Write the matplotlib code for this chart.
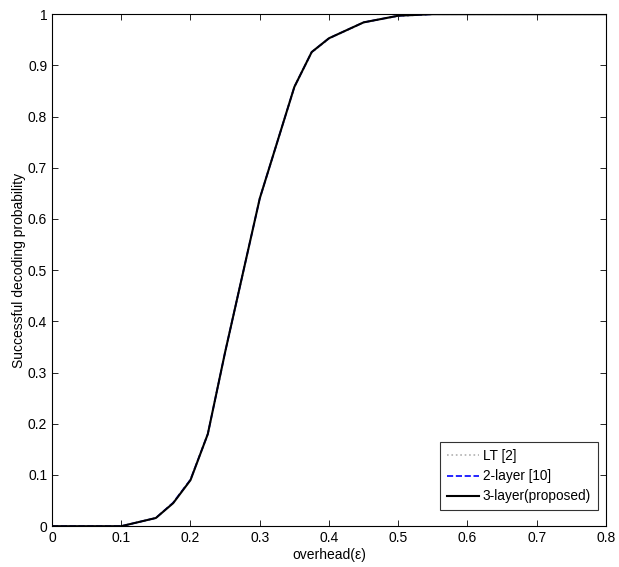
import matplotlib
matplotlib.use("Agg")
import matplotlib.pyplot as plt

plt.rcParams['font.family'] = ['Liberation Sans', 'DejaVu Sans']

overhead = [0.0, 0.1, 0.15, 0.175, 0.2, 0.225, 0.25, 0.3, 0.35, 0.375, 0.4, 0.45, 0.5, 0.55, 0.6, 0.7, 0.8]
lt_prob = [0.0, 0.0, 0.016, 0.046, 0.091, 0.18, 0.34, 0.64, 0.858, 0.925, 0.952, 0.984, 0.996, 1.0, 1.0, 1.0, 1.0]
two_layer_prob = [0.0, 0.0, 0.016, 0.046, 0.091, 0.18, 0.34, 0.64, 0.858, 0.926, 0.953, 0.984, 0.997, 1.0, 1.0, 1.0, 1.0]
three_layer_prob = [0.0, 0.0, 0.016, 0.045, 0.09, 0.18, 0.34, 0.64, 0.858, 0.926, 0.953, 0.984, 0.997, 1.0, 1.0, 1.0, 1.0]

xticks = [0, 0.1, 0.2, 0.3, 0.4, 0.5, 0.6, 0.7, 0.8]
yticks = [0, 0.1, 0.2, 0.3, 0.4, 0.5, 0.6, 0.7, 0.8, 0.9, 1]

fig = plt.figure(figsize=(6.19, 5.67), dpi=100)
ax = fig.add_axes([0.084, 0.072, 0.895, 0.903])

ax.plot(overhead, lt_prob, color='#b0b0b0', linestyle=':', linewidth=1.2, label='LT [2]')
ax.plot(overhead, two_layer_prob, color='#0000ff', linestyle='--', linewidth=1.2, label='2-layer [10]')
ax.plot(overhead, three_layer_prob, color='black', linestyle='-', linewidth=1.5, label='3-layer(proposed)')

ax.set_xlim(0, 0.8)
ax.set_ylim(0, 1)
ax.set_xticks(xticks)
ax.set_xticklabels([f"{t:g}" for t in xticks])
ax.set_yticks(yticks)
ax.set_yticklabels([f"{t:g}" for t in yticks])
ax.tick_params(direction='in', length=4, labelsize=10, top=True, right=True, width=0.6)
for s in ax.spines.values():
    s.set_linewidth(0.8)

ax.set_xlabel('overhead(ε)', fontsize=10, labelpad=2)
ax.set_ylabel('Successful decoding probability', fontsize=10, labelpad=1)

leg = ax.legend(loc='lower right', bbox_to_anchor=(0.985, 0.031), fontsize=9.8, frameon=True,
                fancybox=False, edgecolor='black', handlelength=2.3, handletextpad=0.3,
                borderpad=0.5, labelspacing=0.45, borderaxespad=0)
leg.get_frame().set_linewidth(0.8)

fig.savefig('out.png', dpi=100)
